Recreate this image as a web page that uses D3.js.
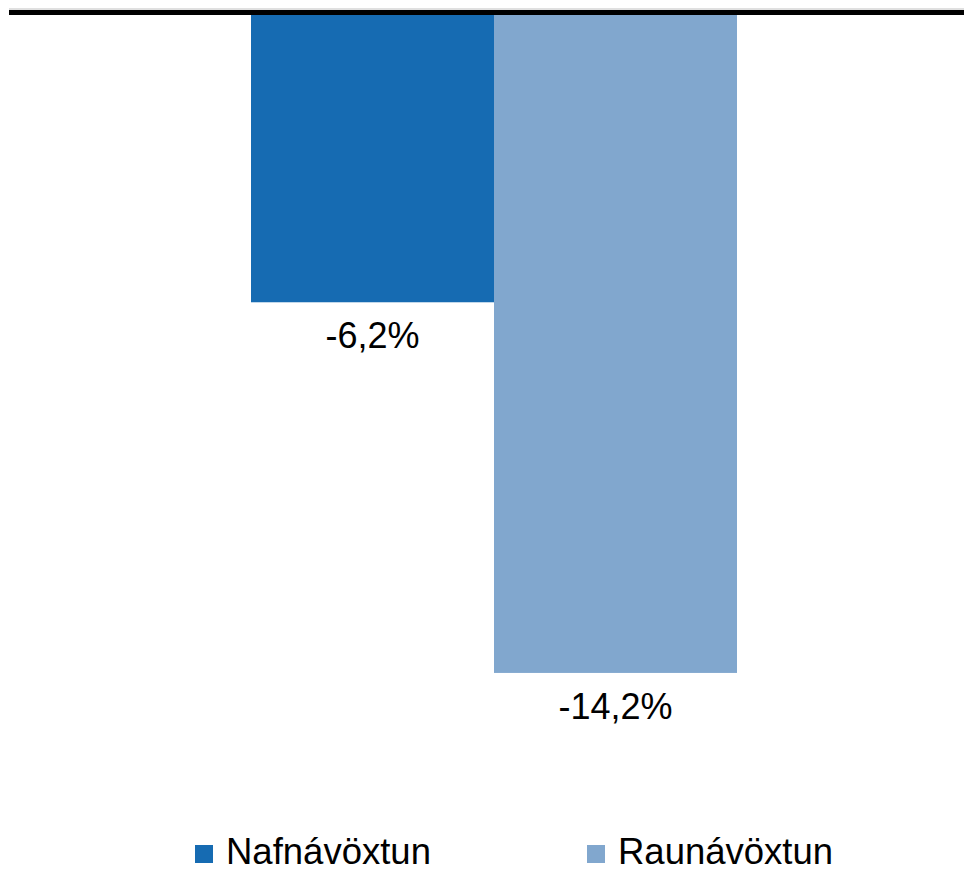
<!DOCTYPE html>
<html>
<head>
<meta charset="utf-8">
<script src="https://cdn.jsdelivr.net/npm/d3@7"></script>
<style>
  body { margin: 0; background: #fff; }
  svg { display: block; font-family: "Liberation Sans", Arial, sans-serif; }
</style>
</head>
<body>
<div id="chart"></div>
<script>
const width = 964;
const height = 872;

const series = ["Nafnávöxtun", "Raunávöxtun"];
const values = [-6.2, -14.2];
const labels = ["-6,2%", "-14,2%"];
const colors = ["#166bb2", "#81a7ce"];

const svg = d3.select("#chart").append("svg")
    .attr("width", width)
    .attr("height", height);

const x = d3.scaleBand()
    .domain(series)
    .range([251, 737])
    .paddingInner(0)
    .paddingOuter(0);

const y = d3.scaleLinear()
    .domain([0, -15])
    .range([15, 710]);

// bars
svg.selectAll("rect.bar")
    .data(series)
    .enter().append("rect")
    .attr("class", "bar")
    .attr("x", d => x(d))
    .attr("width", x.bandwidth())
    .attr("y", y(0))
    .attr("height", (d, i) => y(values[i]) - y(0))
    .attr("fill", (d, i) => colors[i]);

// value labels under each bar
svg.selectAll("text.val")
    .data(series)
    .enter().append("text")
    .attr("class", "val")
    .attr("x", d => x(d) + x.bandwidth() / 2)
    .attr("y", (d, i) => y(values[i]) + 46)
    .attr("text-anchor", "middle")
    .style("font-size", "36px")
    .attr("fill", "#000")
    .text((d, i) => labels[i]);

// zero line
svg.append("line")
    .attr("x1", 9).attr("x2", width)
    .attr("y1", y(0) - 6).attr("y2", y(0) - 6)
    .attr("stroke", "#c0c0c0")
    .attr("stroke-width", 1);
svg.append("line")
    .attr("x1", 9).attr("x2", width)
    .attr("y1", y(0) - 2.5).attr("y2", y(0) - 2.5)
    .attr("stroke", "#000")
    .attr("stroke-width", 5);

// legend
const legendX = [195, 587];
const legend = svg.selectAll("g.legend")
    .data(series)
    .enter().append("g")
    .attr("class", "legend")
    .attr("transform", (d, i) => `translate(${legendX[i]},845)`);

legend.append("rect")
    .attr("width", 18)
    .attr("height", 18)
    .attr("fill", (d, i) => colors[i]);

legend.append("text")
    .attr("x", 31)
    .attr("y", 19)
    .style("font-size", "36.5px")
    .attr("fill", "#000")
    .text(d => d);
</script>
</body>
</html>
